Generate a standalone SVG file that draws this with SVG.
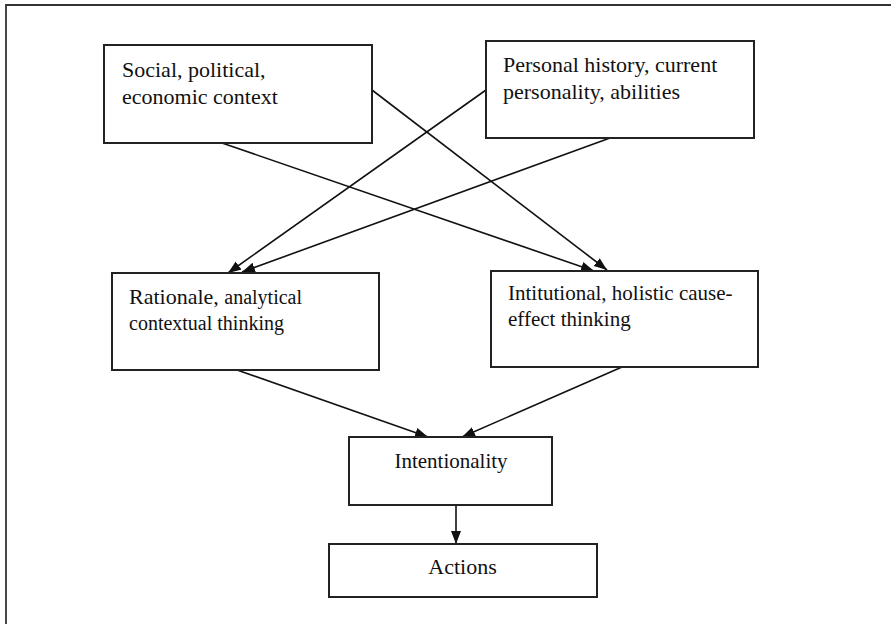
<svg xmlns="http://www.w3.org/2000/svg" width="891" height="624" viewBox="0 0 891 624">
<style>
.box{fill:#fff;stroke:#222;stroke-width:2}
.t{font-family:"Liberation Serif","Times New Roman",serif;fill:#111}
.c{stroke:#111;stroke-width:1.6;fill:none;marker-end:url(#ah)}
</style>
<defs>
<marker id="ah" markerUnits="userSpaceOnUse" markerWidth="14" markerHeight="11" refX="13" refY="5" orient="auto">
<path d="M0,0 L13,5 L0,10 z" fill="#111"/>
</marker>
</defs>
<rect width="891" height="624" fill="#fff"/>
<g id="frame"><path d="M6,624 V5 H891" fill="none" stroke="#333" stroke-width="1.8"/></g>
<g id="connectors">
<line class="c" x1="372" y1="90" x2="607" y2="270"/>
<line class="c" x1="222" y1="143" x2="594" y2="271"/>
<line class="c" x1="486" y1="90" x2="228" y2="273"/>
<line class="c" x1="610" y1="138" x2="242" y2="272"/>
<line class="c" x1="237" y1="370" x2="428" y2="437"/>
<line class="c" x1="622" y1="367" x2="462" y2="437"/>
<line class="c" x1="456" y1="505" x2="456" y2="544"/>
</g>
<g id="n1"><rect class="box" x="104" y="45" width="268" height="98"/>
<text class="t" font-size="22" x="122" y="77">Social, political,</text>
<text class="t" font-size="22" x="122" y="104">economic context</text></g>
<g id="n2"><rect class="box" x="486" y="41" width="268" height="97"/>
<text class="t" font-size="22" x="503" y="72">Personal history, current</text>
<text class="t" font-size="22" x="503" y="99">personality, abilities</text></g>
<g id="n3"><rect class="box" x="112" y="273" width="267" height="97"/>
<text class="t" x="129" y="304"><tspan font-size="22">Rationale, </tspan><tspan font-size="20">analytical</tspan></text>
<text class="t" font-size="20" x="129" y="330">contextual thinking</text></g>
<g id="n4"><rect class="box" x="491" y="271" width="267" height="96"/>
<text class="t" font-size="21" x="508" y="300">Intitutional, holistic cause-</text>
<text class="t" font-size="21" x="508" y="326">effect thinking</text></g>
<g id="n5"><rect class="box" x="349" y="437" width="203" height="68"/>
<text class="t" font-size="21" x="451" y="468" text-anchor="middle">Intentionality</text></g>
<g id="n6"><rect class="box" x="329" y="544" width="268" height="53"/>
<text class="t" font-size="22" x="462.5" y="574" text-anchor="middle">Actions</text></g>
</svg>
